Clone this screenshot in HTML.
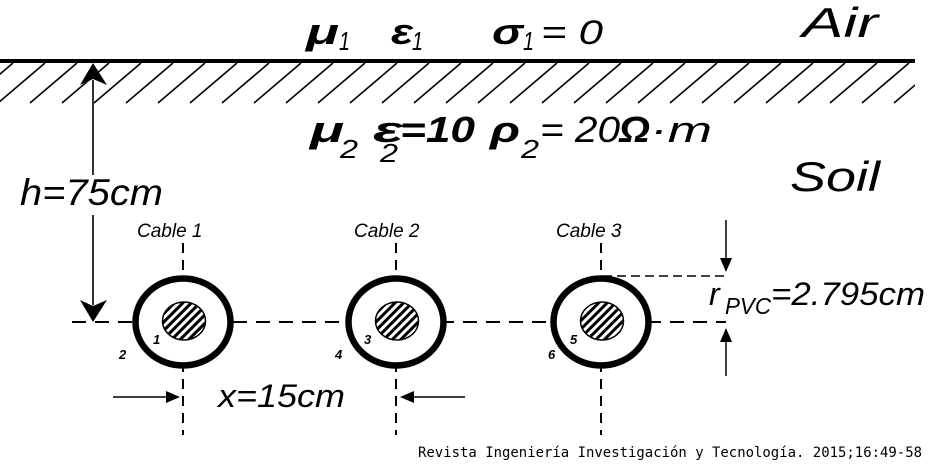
<!DOCTYPE html>
<html><head><meta charset="utf-8"><style>
html,body{margin:0;padding:0;background:#fff;}
svg{display:block;}
text{font-family:"Liberation Sans","DejaVu Sans",sans-serif;font-style:italic;fill:#000;}
</style></head><body>
<svg width="929" height="473" viewBox="0 0 929 473" xmlns="http://www.w3.org/2000/svg">
<defs>
<pattern id="hc" patternUnits="userSpaceOnUse" width="6" height="6" patternTransform="rotate(45)">
<rect width="6" height="6" fill="#fff"/><rect width="3" height="6" fill="#000"/>
</pattern>
<clipPath id="hatchclip"><rect x="0" y="63" width="915" height="42"/></clipPath>
</defs>
<rect x="0" y="59" width="915" height="4" fill="#000"/>
<g clip-path="url(#hatchclip)" stroke="#000" stroke-width="1.6">
<path d="M-34 103 L13 63 M-2 103 L45 63 M30 103 L77 63 M62 103 L109 63 M94 103 L141 63 M126 103 L173 63 M158 103 L205 63 M190 103 L237 63 M222 103 L269 63 M254 103 L301 63 M286 103 L333 63 M318 103 L365 63 M350 103 L397 63 M382 103 L429 63 M414 103 L461 63 M446 103 L493 63 M478 103 L525 63 M510 103 L557 63 M542 103 L589 63 M574 103 L621 63 M606 103 L653 63 M638 103 L685 63 M670 103 L717 63 M702 103 L749 63 M734 103 L781 63 M766 103 L813 63 M798 103 L845 63 M830 103 L877 63 M862 103 L909 63 M894 103 L941 63"/>
</g>
<text x="306" y="44" font-size="36" font-weight="bold" textLength="33" lengthAdjust="spacingAndGlyphs">μ</text>
<text x="339" y="50" font-size="26" textLength="11" lengthAdjust="spacingAndGlyphs">1</text>
<text x="391" y="44" font-size="36" font-weight="bold" textLength="22" lengthAdjust="spacingAndGlyphs">ε</text>
<text x="412" y="50" font-size="26" textLength="11" lengthAdjust="spacingAndGlyphs">1</text>
<text x="492" y="44" font-size="36" font-weight="bold" textLength="31" lengthAdjust="spacingAndGlyphs">σ</text>
<text x="523" y="50" font-size="26" textLength="11" lengthAdjust="spacingAndGlyphs">1</text>
<text x="541" y="44" font-size="34" textLength="62" lengthAdjust="spacingAndGlyphs">= 0</text>
<text x="802" y="37" font-size="42" textLength="76" lengthAdjust="spacingAndGlyphs">Air</text>
<text x="310" y="142" font-size="36" font-weight="bold" textLength="34" lengthAdjust="spacingAndGlyphs">μ</text>
<text x="340" y="158" font-size="26" textLength="18" lengthAdjust="spacingAndGlyphs">2</text>
<text x="373" y="142" font-size="36" font-weight="bold" textLength="30" lengthAdjust="spacingAndGlyphs">ε</text>
<text x="380" y="162" font-size="26" textLength="18" lengthAdjust="spacingAndGlyphs">2</text>
<text x="400" y="142" font-size="36" font-weight="bold" textLength="75" lengthAdjust="spacingAndGlyphs">=10</text>
<text x="490" y="142" font-size="36" font-weight="bold" textLength="30" lengthAdjust="spacingAndGlyphs">ρ</text>
<text x="521" y="158" font-size="26" textLength="18" lengthAdjust="spacingAndGlyphs">2</text>
<text x="540" y="142" font-size="36" textLength="80" lengthAdjust="spacingAndGlyphs">= 20</text>
<text x="619" y="142" font-size="36" font-weight="bold" textLength="31" lengthAdjust="spacingAndGlyphs">Ω</text>
<text x="650" y="142" font-size="36" textLength="62" lengthAdjust="spacingAndGlyphs">·m</text>
<text x="790" y="191" font-size="42" textLength="90" lengthAdjust="spacingAndGlyphs">Soil</text>
<text x="20" y="205" font-size="37" textLength="143" lengthAdjust="spacingAndGlyphs">h=75cm</text>
<line x1="93" y1="80" x2="93" y2="175" stroke="#000" stroke-width="1.6"/>
<line x1="93" y1="215" x2="93" y2="305" stroke="#000" stroke-width="1.6"/>
<path d="M93 63 L107 85 L93 79 L80 85 Z" fill="#000"/>
<path d="M93 322 L107 300 L93 306 L80 300 Z" fill="#000"/>
<line x1="72" y1="322" x2="726" y2="322" stroke="#000" stroke-width="2" stroke-dasharray="14 9"/>
<line x1="603" y1="276" x2="727" y2="276" stroke="#000" stroke-width="1.5" stroke-dasharray="9 5"/>
<g>
<line x1="183" y1="243" x2="183" y2="435" stroke="#000" stroke-width="2" stroke-dasharray="10 7"/>
<ellipse cx="183" cy="322" rx="47.5" ry="43.5" fill="#fff" stroke="#000" stroke-width="6.5"/>
<ellipse cx="184" cy="321" rx="21.5" ry="19" fill="url(#hc)" stroke="#000" stroke-width="1.5"/>
<text x="137" y="237" font-size="19">Cable 1</text>
<text x="153" y="344" font-size="13" font-weight="bold">1</text>
<text x="119" y="359" font-size="13" font-weight="bold">2</text>
</g>
<g>
<line x1="396" y1="243" x2="396" y2="435" stroke="#000" stroke-width="2" stroke-dasharray="10 7"/>
<ellipse cx="396" cy="322" rx="47.5" ry="43.5" fill="#fff" stroke="#000" stroke-width="6.5"/>
<ellipse cx="397" cy="321" rx="21.5" ry="19" fill="url(#hc)" stroke="#000" stroke-width="1.5"/>
<text x="354" y="237" font-size="19">Cable 2</text>
<text x="364" y="344" font-size="13" font-weight="bold">3</text>
<text x="335" y="359" font-size="13" font-weight="bold">4</text>
</g>
<g>
<line x1="601" y1="243" x2="601" y2="435" stroke="#000" stroke-width="2" stroke-dasharray="10 7"/>
<ellipse cx="601" cy="322" rx="47.5" ry="43.5" fill="#fff" stroke="#000" stroke-width="6.5"/>
<ellipse cx="602" cy="321" rx="21.5" ry="19" fill="url(#hc)" stroke="#000" stroke-width="1.5"/>
<text x="556" y="237" font-size="19">Cable 3</text>
<text x="570" y="344" font-size="13" font-weight="bold">5</text>
<text x="548" y="359" font-size="13" font-weight="bold">6</text>
</g>
<line x1="726" y1="220" x2="726" y2="262" stroke="#000" stroke-width="1.5"/>
<path d="M726 272 L720 258 L732 258 Z" fill="#000"/>
<line x1="726" y1="338" x2="726" y2="376" stroke="#000" stroke-width="1.5"/>
<path d="M726 328 L720 342 L732 342 Z" fill="#000"/>
<text x="709" y="305" font-size="32">r</text>
<text x="725" y="314" font-size="23" textLength="46" lengthAdjust="spacingAndGlyphs">PVC</text>
<text x="771" y="305" font-size="32" textLength="154" lengthAdjust="spacingAndGlyphs">=2.795cm</text>
<line x1="113" y1="397" x2="168" y2="397" stroke="#000" stroke-width="1.5"/>
<path d="M180 397 L166 391 L166 403 Z" fill="#000"/>
<line x1="412" y1="397" x2="465" y2="397" stroke="#000" stroke-width="1.5"/>
<path d="M400 397 L414 391 L414 403 Z" fill="#000"/>
<text x="218" y="407" font-size="32" textLength="127" lengthAdjust="spacingAndGlyphs">x=15cm</text>
<text x="418" y="457" font-size="14" style="font-family:'DejaVu Sans Mono','Liberation Mono',monospace;font-style:normal" textLength="504" lengthAdjust="spacingAndGlyphs">Revista Ingeniería Investigación y Tecnología. 2015;16:49-58</text>
</svg>
</body></html>
